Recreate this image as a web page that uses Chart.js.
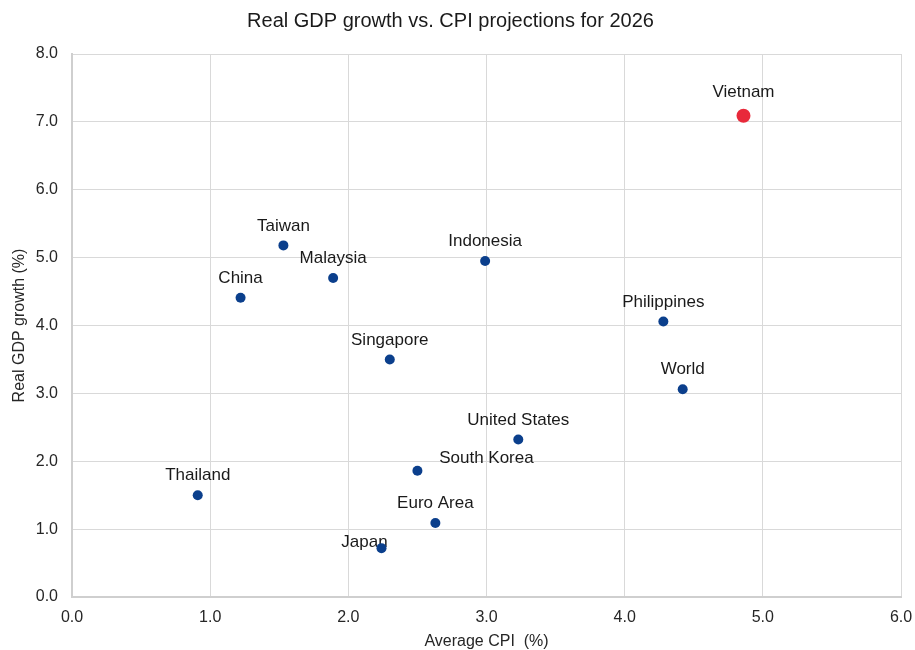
<!DOCTYPE html>
<html>
<head>
<meta charset="utf-8">
<script src="https://cdn.jsdelivr.net/npm/chart.js@4"></script>
<style>
  html, body { margin: 0; padding: 0; background: #ffffff; }
  #wrap { width: 915px; height: 650px; }
</style>
</head>
<body>
<div id="wrap"><canvas id="chart" width="915" height="650"></canvas></div>
<script>
// 2026 projections: average CPI inflation (%) and real GDP growth (%)
const economies = ['Vietnam', 'Taiwan', 'Malaysia', 'China', 'Indonesia', 'Philippines', 'Singapore',
                   'World', 'United States', 'South Korea', 'Thailand', 'Euro Area', 'Japan'];
const avgCpi    = [4.86, 1.53, 1.89, 1.22, 2.99, 4.28, 2.30, 4.42, 3.23, 2.50, 0.91, 2.63, 2.24];
const gdpGrowth = [7.09, 5.18, 4.70, 4.41, 4.95, 4.06, 3.50, 3.06, 2.32, 1.86, 1.50, 1.09, 0.72];
const highlighted = ['Vietnam'];

const xTickValues = [0, 1, 2, 3, 4, 5, 6];
const yTickValues = [0, 1, 2, 3, 4, 5, 6, 7, 8];

// Label placement relative to each marker (pixels, label centre)
const defaultLabelShift = [0, -19.5];
const labelShift = {
  'Vietnam': [0, -23.5],
  'South Korea': [69, -12],
  'Japan': [-17, -6]
};

const FONT = "Arial, 'Liberation Sans', sans-serif";
const BLUE = '#0b3f8c';
const RED = '#e8293a';

const points = economies.map((name, i) => ({ x: avgCpi[i], y: gdpGrowth[i], name }));
const isHi = economies.map(n => highlighted.includes(n));

const pointLabels = {
  id: 'pointLabels',
  beforeDatasetsDraw(chart) {
    const ctx = chart.ctx;
    const meta = chart.getDatasetMeta(0);
    ctx.save();
    ctx.font = '17px ' + FONT;
    ctx.fillStyle = '#1a1a1a';
    ctx.textAlign = 'center';
    ctx.textBaseline = 'middle';
    meta.data.forEach((el, i) => {
      const name = economies[i];
      const s = labelShift[name] || defaultLabelShift;
      ctx.fillText(name, el.x + s[0], el.y + s[1]);
    });
    ctx.restore();
  }
};

new Chart(document.getElementById('chart'), {
  type: 'scatter',
  data: {
    datasets: [{
      data: points,
      pointBackgroundColor: isHi.map(h => h ? RED : BLUE),
      pointBorderColor: isHi.map(h => h ? RED : BLUE),
      pointRadius: isHi.map(h => h ? 7 : 5),
      pointHoverRadius: isHi.map(h => h ? 7 : 5),
      pointBorderWidth: 0
    }]
  },
  options: {
    responsive: false,
    animation: false,
    devicePixelRatio: 1,
    layout: { padding: { left: 0, right: 14, top: 0, bottom: 0 } },
    plugins: {
      legend: { display: false },
      tooltip: { enabled: false },
      title: {
        display: true,
        text: 'Real GDP growth vs. CPI projections for 2026',
        color: '#1a1a1a',
        font: { family: FONT, size: 20, weight: 'normal', lineHeight: 1.2 },
        padding: { top: 9.5, bottom: 20.5 }
      }
    },
    scales: {
      x: {
        type: 'linear',
        min: xTickValues[0],
        max: xTickValues[xTickValues.length - 1],
        afterBuildTicks: (s) => { s.ticks = xTickValues.map(v => ({ value: v })); },
        afterFit: (s) => { s.height = 53; s.paddingLeft = 0; s.paddingRight = 0; },
        grid: { color: '#d9d9d9', lineWidth: 1, drawTicks: false },
        border: { color: '#cfcfcf', width: 2 },
        ticks: {
          padding: 11,
          color: '#262626',
          font: { family: FONT, size: 16 },
          callback: (v) => Number(v).toFixed(1)
        },
        title: {
          display: true,
          text: 'Average CPI  (%)',
          color: '#262626',
          font: { family: FONT, size: 16, lineHeight: 1 },
          padding: { top: 0, bottom: 0 }
        }
      },
      y: {
        type: 'linear',
        min: yTickValues[0],
        max: yTickValues[yTickValues.length - 1],
        afterBuildTicks: (s) => { s.ticks = yTickValues.map(v => ({ value: v })); },
        afterFit: (s) => { s.width = 72; },
        grid: { color: '#d9d9d9', lineWidth: 1, drawTicks: false },
        border: { color: '#cfcfcf', width: 2 },
        ticks: {
          padding: 14,
          color: '#262626',
          font: { family: FONT, size: 16 },
          callback: (v) => Number(v).toFixed(1)
        },
        title: {
          display: true,
          text: 'Real GDP growth (%)',
          color: '#262626',
          font: { family: FONT, size: 16, lineHeight: 1 },
          padding: { top: 12, bottom: 0 }
        }
      }
    }
  },
  plugins: [pointLabels]
});
</script>
</body>
</html>
